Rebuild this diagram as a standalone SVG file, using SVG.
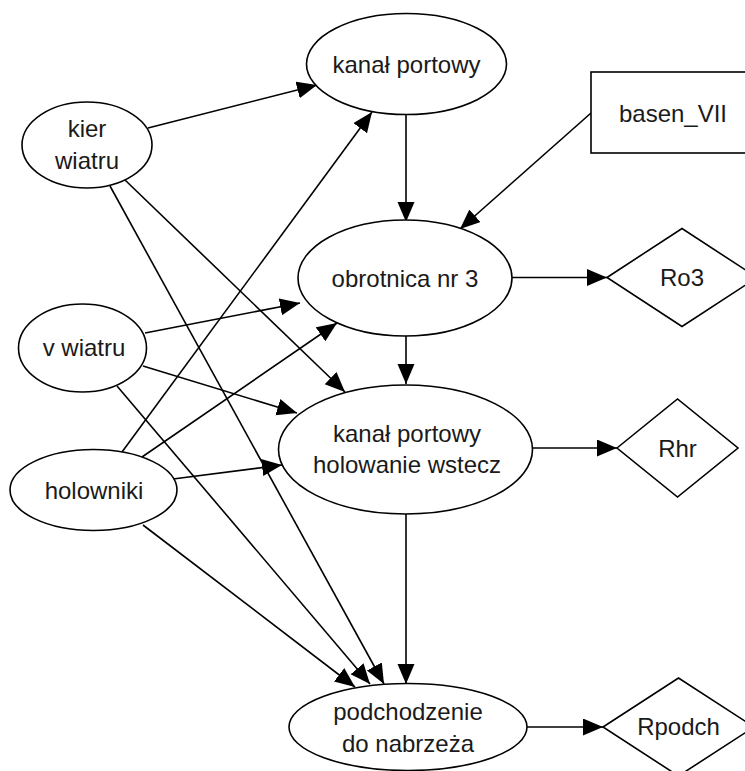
<svg xmlns="http://www.w3.org/2000/svg" width="745" height="771" viewBox="0 0 745 771">
<defs>
<marker id="arr" markerUnits="userSpaceOnUse" markerWidth="22" markerHeight="18" refX="20" refY="8.5" orient="auto">
<path d="M0,0 L20,8.5 L0,17 z" fill="#000"/>
</marker>
<style>
.n{fill:#fff;stroke:#000;stroke-width:1.6}
.t{font-family:"Liberation Sans",Arial,sans-serif;font-size:24px;fill:#1a1a1a;text-anchor:middle}
.e{fill:none;stroke:#000;stroke-width:1.6;marker-end:url(#arr)}
</style>
</defs>
<rect width="745" height="771" fill="#fff"/>
<g id="connectors">
<path class="e" d="M148,128 L317,85"/>
<path class="e" d="M125,180 L345,392"/>
<path class="e" d="M110,186 L384,684"/>
<path class="e" d="M145,333 L300,303"/>
<path class="e" d="M143,366 L297,413"/>
<path class="e" d="M117,386 L370,684"/>
<path class="e" d="M122,452 L372,112"/>
<path class="e" d="M142,457 L337,323"/>
<path class="e" d="M173,479 L282,465"/>
<path class="e" d="M143,525 L355,687"/>
<path class="e" d="M406,114 L406,222"/>
<path class="e" d="M591,113 L460,229"/>
<path class="e" d="M406,336 L406,384"/>
<path class="e" d="M512,277.5 L607,277.5"/>
<path class="e" d="M533,448 L617,448"/>
<path class="e" d="M406,514 L406,684"/>
<path class="e" d="M527,727 L603,727"/>
</g>
<g id="kanal_portowy">
<ellipse class="n" cx="406.5" cy="64" rx="100" ry="50.5"/>
<text class="t" x="406.5" y="73">kanał portowy</text>
</g>
<g id="basen_VII">
<rect class="n" x="591" y="72" width="164" height="81"/>
<text class="t" x="673" y="122">basen_VII</text>
</g>
<g id="kier_wiatru">
<ellipse class="n" cx="87" cy="145" rx="65" ry="43"/>
<text class="t" x="87" y="137">kier</text>
<text class="t" x="87" y="168.5">wiatru</text>
</g>
<g id="obrotnica">
<ellipse class="n" cx="405" cy="278" rx="107" ry="58"/>
<text class="t" x="405" y="286.5">obrotnica nr 3</text>
</g>
<g id="Ro3">
<polygon class="n" points="607,277.5 682,228.5 757,277.5 682,326.5"/>
<text class="t" x="682" y="285.5">Ro3</text>
</g>
<g id="v_wiatru">
<ellipse class="n" cx="82.5" cy="348" rx="64" ry="44"/>
<text class="t" x="84" y="356">v wiatru</text>
</g>
<g id="holowanie">
<ellipse class="n" cx="405.5" cy="449.5" rx="127" ry="64.5"/>
<text class="t" x="407" y="441.5">kanał portowy</text>
<text class="t" x="407" y="473">holowanie wstecz</text>
</g>
<g id="Rhr">
<polygon class="n" points="617,448 677.5,399 738,448 677.5,497"/>
<text class="t" x="677.5" y="456.5">Rhr</text>
</g>
<g id="holowniki">
<ellipse class="n" cx="93.5" cy="490" rx="83.5" ry="40.5"/>
<text class="t" x="94" y="498.5">holowniki</text>
</g>
<g id="podchodzenie">
<ellipse class="n" cx="408" cy="727" rx="119" ry="43.5"/>
<text class="t" x="408" y="720">podchodzenie</text>
<text class="t" x="408" y="751.5">do nabrzeża</text>
</g>
<g id="Rpodch">
<polygon class="n" points="603,727 678.5,678 754,727 678.5,776"/>
<text class="t" x="678.5" y="735">Rpodch</text>
</g>
</svg>
